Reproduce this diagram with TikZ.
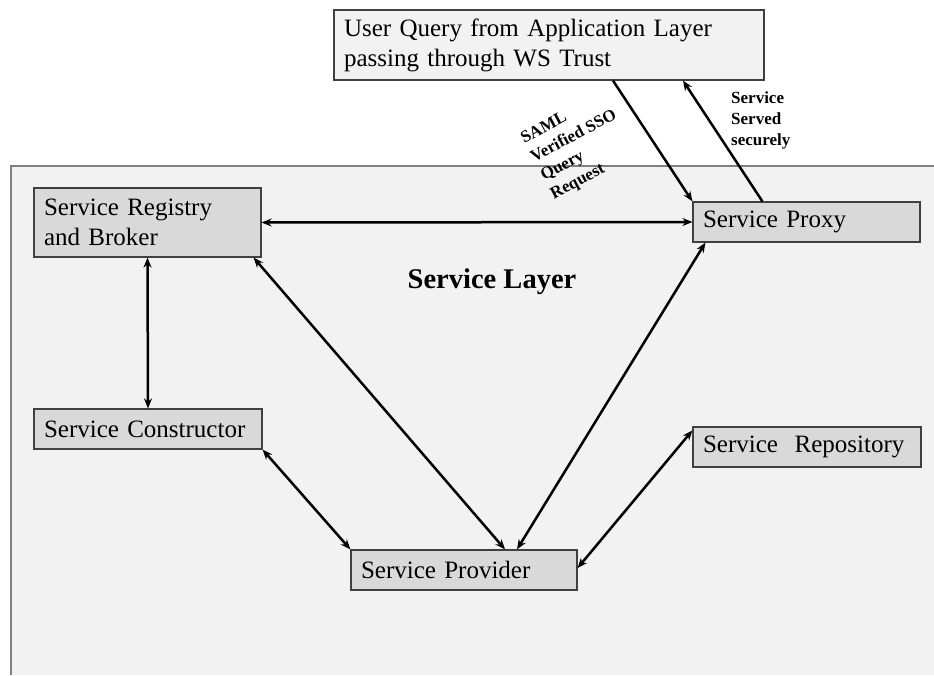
\documentclass[tikz,border=0pt]{standalone}
\usepackage{fontspec}
\setmainfont{Liberation Serif}
\usetikzlibrary{arrows.meta}
\begin{document}
\begin{tikzpicture}[x=1pt, y=-1pt, >={Stealth[length=10pt,width=8pt]},
  box/.style={draw=black!75, line width=1.2pt, fill=black!15, align=left, inner xsep=10pt,
    text width=#1, minimum height=40pt, font=\fontsize{25}{30}\selectfont},
  link/.style={<->, line width=2.5pt},
  note/.style={font=\bfseries\fontsize{17}{21}\selectfont, align=left, inner sep=0pt}]
\useasboundingbox (0,0) rectangle (934,675);
% service layer
\fill[black!5] (11,166) rectangle (934,675);
\draw[black!50, line width=1.2pt] (11,675) -- (11,166) -- (934,166);
\node[font=\bfseries\fontsize{28.5}{32}\selectfont] (layer) at (492,282) {Service Layer};
% boxes
\node[box=410pt, fill=black!5, minimum height=70pt] (user) at (549,45) {User Query from Application Layer\\passing through WS Trust};
\node[box=207pt, minimum height=69pt] (reg) at (147.5,222.5) {Service Registry\\and Broker};
\node[box=207pt] (proxy) at (806.5,222) {Service Proxy};
\node[box=208pt] (con) at (148,429) {Service Constructor};
\node[box=208pt] (repo) at (807,447) {Service~~Repository};
\node[box=206pt] (prov) at (464,570) {Service Provider};
% links
\draw[link] (reg.east) -- (proxy.west);
\draw[link] (reg.south) -- (con.north);
\draw[link] ([xshift=-8pt]reg.south east) -- ([xshift=41pt]prov.north);
\draw[link] (con.south east) -- (prov.north west);
\draw[link] ([xshift=53pt]prov.north) -- ([xshift=13pt]proxy.south west);
\draw[link] ([yshift=2pt]prov.east) -- ([yshift=-4pt]repo.north west);
\draw[->, line width=2.5pt] ([xshift=64pt]user.south) -- (proxy.north west);
\draw[->, line width=2.5pt] ([xshift=70pt]proxy.north west) -- ([xshift=134pt]user.south);
% labels
\node[note, rotate=28] (saml) at (579,146) {SAML\\Verified SSO\\Query\\Request};
\node[note, anchor=west] (served) at (731,120) {Service\\Served\\securely};
\end{tikzpicture}
\end{document}
